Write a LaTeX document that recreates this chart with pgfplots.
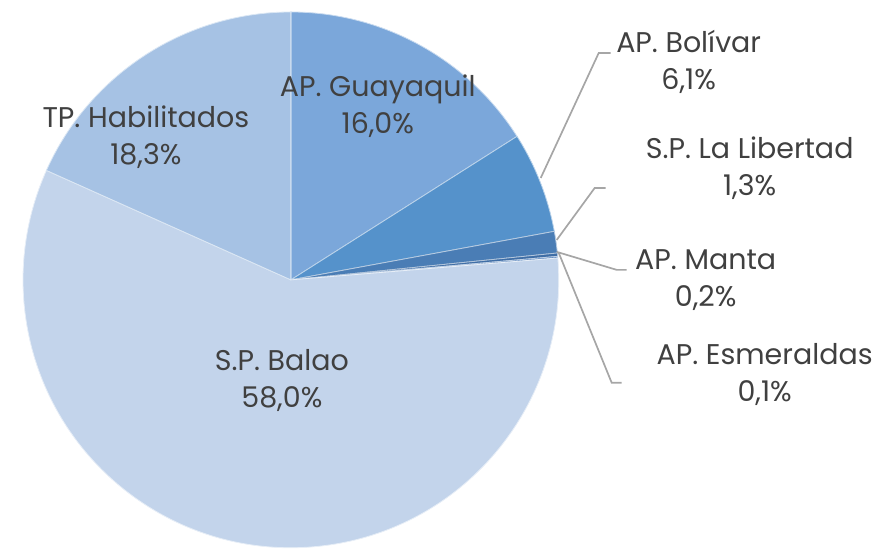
\documentclass[border=0pt]{standalone}
\usepackage{fontspec}
\setmainfont{Poppins}
\usepackage{pgfplots}
\pgfplotsset{compat=1.18}
\definecolor{cGuay}{HTML}{7BA7DA}
\definecolor{cBoli}{HTML}{5592CB}
\definecolor{cLib}{HTML}{4A7DB5}
\definecolor{cMan}{HTML}{3F6EA6}
\definecolor{cEsm}{HTML}{5A86BE}
\definecolor{cBal}{HTML}{C3D4EB}
\definecolor{cHab}{HTML}{A6C2E4}
\definecolor{txt}{HTML}{404040}
\definecolor{lead}{HTML}{A6A6A6}

% slice: start angle, end angle, colour (clockwise from 12 o'clock)
\newcommand{\slice}[3]{\fill[#3,draw=white!60!#3,line width=0.8pt]
 (axis cs:291,266) -- ++(#1:268pt) arc[start angle=#1,end angle=#2,radius=268pt] -- cycle;}
\newcommand{\lbl}[4]{\node[txt,align=center,font=\fontsize{28.5}{37}\selectfont] at (axis cs:#1,#2) {#3\\#4};}

\begin{document}
\begin{tikzpicture}
\begin{axis}[x=1pt,y=1pt,xmin=0,xmax=876,ymin=0,ymax=546,hide axis,
 scale only axis,clip=false]
\path (axis cs:0,0) rectangle (axis cs:876,546);
% shares: 16.0 6.1 1.3 0.2 0.1 58.0 18.3 (%)
\slice{90}{32.4}{cGuay}
\slice{32.4}{10.44}{cBoli}
\slice{10.44}{5.76}{cLib}
\slice{5.76}{5.04}{cMan}
\slice{5.04}{4.68}{cEsm}
\slice{4.68}{-204.12}{cBal}
\slice{-204.12}{-270}{cHab}
% leader lines
\draw[lead,line width=1.7pt] (axis cs:541,368) -- (axis cs:599,493) -- (axis cs:611,493);
\draw[lead,line width=1.7pt] (axis cs:557,306) -- (axis cs:595,358) -- (axis cs:606,358);
\draw[lead,line width=1.7pt] (axis cs:557,294) -- (axis cs:617,276) -- (axis cs:627,276);
\draw[lead,line width=1.7pt] (axis cs:559,293) -- (axis cs:612,163) -- (axis cs:622,163);
% labels
\lbl{378}{440}{AP. Guayaquil}{16,0\%}
\lbl{146}{409}{TP. Habilitados}{18,3\%}
\lbl{282}{165}{S.P. Balao}{58,0\%}
\lbl{689}{484}{AP. Bolívar}{6,1\%}
\lbl{750}{378}{S.P. La Libertad}{1,3\%}
\lbl{706}{266}{AP. Manta}{0,2\%}
\lbl{765}{171}{AP. Esmeraldas}{0,1\%}
\end{axis}
\end{tikzpicture}
\end{document}
